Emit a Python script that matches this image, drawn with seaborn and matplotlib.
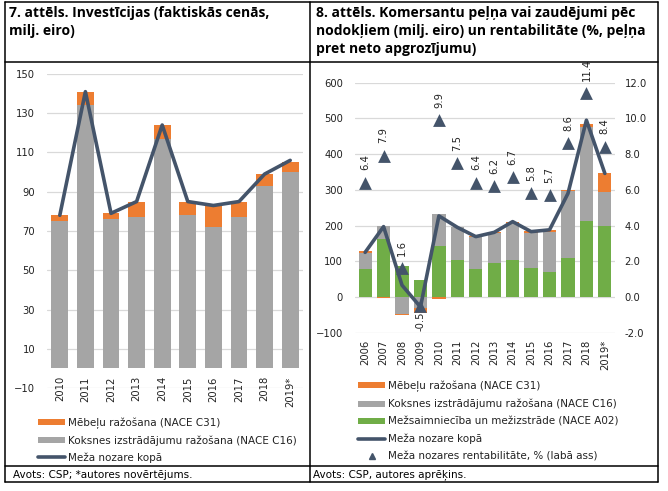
import numpy as np
import pandas as pd
import seaborn as sns
import matplotlib.pyplot as plt
from matplotlib.lines import Line2D
from matplotlib.patches import Patch

# 7. attels - investicijas
years_l = ["2010", "2011", "2012", "2013", "2014", "2015", "2016", "2017", "2018", "2019*"]
koksne_l = [75, 134, 76, 77, 117, 78, 72, 77, 93, 100]
mebeles_l = [3, 7, 3, 8, 7, 7, 11, 8, 6, 5]
kopa_l = [78, 141, 79, 85, 124, 85, 83, 85, 99, 106]

# 8. attels - pelna / zaudejumi un rentabilitate
years_r = ["2006", "2007", "2008", "2009", "2010", "2011", "2012", "2013", "2014",
           "2015", "2016", "2017", "2018", "2019*"]
mezs_r = [78, 162, 88, 47, 144, 104, 78, 96, 104, 82, 71, 110, 213, 200]
koksne_r = [46, 38, -49, -30, 88, 91, 90, 84, 104, 98, 111, 187, 263, 95]
mebeles_r = [5, -4, -2, -14, -6, 1, 3, 2, 3, 6, 6, 3, 9, 52]
kopa_r = [125, 197, 33, -28, 227, 195, 169, 181, 211, 183, 188, 290, 495, 346]
rent_r = [6.4, 7.9, 1.6, -0.5, 9.9, 7.5, 6.4, 6.2, 6.7, 5.8, 5.7, 8.6, 11.4, 8.4]

ORANGE = "#ED7D31"
GRAY = "#A5A5A5"
GREEN = "#70AD47"
NAVY = "#44546A"
GRID = "#D9D9D9"
TXT = "#222222"

W, H = 668, 491

sns.set_style("white")
plt.rcParams["font.family"] = ["DejaVu Sans"]


def fx(x):
    return x / W


def fy(y):
    return 1 - y / H


def bars(ax, years, values, color, width):
    sns.barplot(x=years, y=values, color=color, saturation=1, width=width,
                linewidth=0, errorbar=None, ax=ax, order=years)


def style_axis(ax, ymin, ymax, step, xpad):
    ax.set_ylim(ymin, ymax)
    ax.set_yticks(np.arange(ymin, ymax + step / 2, step))
    ax.grid(axis="y", color=GRID, lw=0.9)
    ax.set_axisbelow(True)
    for s in ax.spines.values():
        s.set_visible(False)
    ax.tick_params(axis="y", length=0, pad=8.6, labelsize=7.2, labelcolor=TXT)
    ax.tick_params(axis="x", length=0, pad=xpad, labelsize=7.2, labelcolor=TXT)
    ax.set_xlabel("")
    ax.set_ylabel("")


fig = plt.figure(figsize=(W / 100, H / 100), dpi=100)

# ---- left chart ----
ax1 = fig.add_axes([fx(47), fy(388), (303 - 47) / W, (388 - 74) / H])
tot_l = np.array(koksne_l) + np.array(mebeles_l)
bars(ax1, years_l, tot_l, ORANGE, 0.66)
bars(ax1, years_l, koksne_l, GRAY, 0.66)
sns.lineplot(x=np.arange(len(years_l)), y=kopa_l, color=NAVY, lw=2.6, ax=ax1)
style_axis(ax1, -10, 150, 20, -8.5)
ax1.set_xticks(range(len(years_l)))
ax1.set_xticklabels(years_l, rotation=90)
ax1.set_xlim(-0.5, len(years_l) - 0.5)

# ---- right chart ----
ax2 = fig.add_axes([fx(355), fy(332.7), (615 - 355) / W, (332.7 - 82.7) / H])
mz = np.array(mezs_r)
ko = np.array(koksne_r)
mb = np.array(mebeles_r)
pos2 = mz + np.clip(ko, 0, None)
pos3 = pos2 + np.clip(mb, 0, None)
neg2 = np.clip(ko, None, 0)
neg3 = neg2 + np.clip(mb, None, 0)
bars(ax2, years_r, pos3, ORANGE, 0.72)
bars(ax2, years_r, pos2, GRAY, 0.72)
bars(ax2, years_r, mz, GREEN, 0.72)
bars(ax2, years_r, neg3, ORANGE, 0.72)
bars(ax2, years_r, neg2, GRAY, 0.72)
sns.lineplot(x=np.arange(len(years_r)), y=kopa_r, color=NAVY, lw=2.6, ax=ax2)
style_axis(ax2, -100, 600, 100, 5)
ax2.set_xticks(range(len(years_r)))
ax2.set_xticklabels(years_r, rotation=90)
ax2.set_xlim(-0.55, len(years_r) - 0.45)

ax2r = ax2.twinx()
sns.scatterplot(x=np.arange(len(years_r)), y=rent_r, marker="^", s=85, color=NAVY,
                linewidth=0, ax=ax2r, zorder=5)
ax2r.set_ylim(-2, 12)
ax2r.set_yticks(np.arange(-2, 12.1, 2))
ax2r.set_yticklabels([f"{v:.1f}" for v in np.arange(-2, 12.1, 2)])
for s in ax2r.spines.values():
    s.set_visible(False)
ax2r.tick_params(axis="y", length=0, pad=7, labelsize=7.2, labelcolor=TXT)
ax2r.set_ylabel("")
ax2r.set_xlim(-0.55, len(years_r) - 0.45)
for i, v in enumerate(rent_r):
    if v < 0:
        ax2r.annotate(f"{v}", (i, v), xytext=(0, -4), textcoords="offset points",
                      rotation=90, ha="center", va="top", fontsize=7.2, color=TXT)
    else:
        ax2r.annotate(f"{v}", (i, v), xytext=(0, 9), textcoords="offset points",
                      rotation=90, ha="center", va="bottom", fontsize=7.2, color=TXT)

# ---- legends ----
leg_kw = dict(loc="upper left", frameon=False, fontsize=7.5, handlelength=2.6,
              handleheight=0.55, handletextpad=0.3, labelspacing=0.62,
              borderpad=0, borderaxespad=0, labelcolor=TXT)
h_l = [Patch(color=ORANGE, lw=0), Patch(color=GRAY, lw=0), Line2D([], [], color=NAVY, lw=2.6)]
fig.legend(h_l, ["Mēbeļu ražošana (NACE C31)", "Koksnes izstrādājumu ražošana (NACE C16)",
                 "Meža nozare kopā"], bbox_to_anchor=(fx(38), fy(417.5)), **leg_kw)
h_r = [Patch(color=ORANGE, lw=0), Patch(color=GRAY, lw=0), Patch(color=GREEN, lw=0),
       Line2D([], [], color=NAVY, lw=2.6),
       Line2D([], [], color=NAVY, lw=0, marker="^", ms=5)]
fig.legend(h_r, ["Mēbeļu ražošana (NACE C31)", "Koksnes izstrādājumu ražošana (NACE C16)",
                 "Mežsaimniecība un mežizstrāde (NACE A02)", "Meža nozare kopā",
                 "Meža nozares rentabilitāte, % (labā ass)"],
           bbox_to_anchor=(fx(358), fy(380.5)), labelspacing=0.68,
           **{k: v for k, v in leg_kw.items() if k != "labelspacing"})

# ---- table frame ----
def hline(y, x0, x1):
    fig.add_artist(Line2D([fx(x0), fx(x1)], [fy(y), fy(y)], color="black", lw=1.1))


def vline(x, y0, y1):
    fig.add_artist(Line2D([fx(x), fx(x)], [fy(y0), fy(y1)], color="black", lw=1.1))


hline(1.5, 5, 658)
hline(62, 5, 658)
hline(466, 5, 658)
hline(482, 5, 658)
vline(5, 1.5, 482)
vline(310, 1.5, 482)
vline(658, 1.5, 482)

title_kw = dict(ha="left", va="top", fontsize=10, fontweight="bold",
                family=["Open Sans", "DejaVu Sans"], linespacing=1.36, color="black")
fig.text(fx(9), fy(6), "7. attēls. Investīcijas (faktiskās cenās,\nmilj. eiro)", **title_kw)
fig.text(fx(316), fy(6), "8. attēls. Komersantu peļņa vai zaudējumi pēc\n"
         "nodokļiem (milj. eiro) un rentabilitāte (%, peļņa\npret neto apgrozījumu)",
         **title_kw)

fig.text(fx(13), fy(475), "Avots: CSP; *autores novērtējums.", ha="left", va="center",
         fontsize=7.5, color="black")
fig.text(fx(313), fy(475), "Avots: CSP, autores aprēķins.", ha="left", va="center",
         fontsize=7.5, color="black")

fig.savefig("out.png", dpi=100)
